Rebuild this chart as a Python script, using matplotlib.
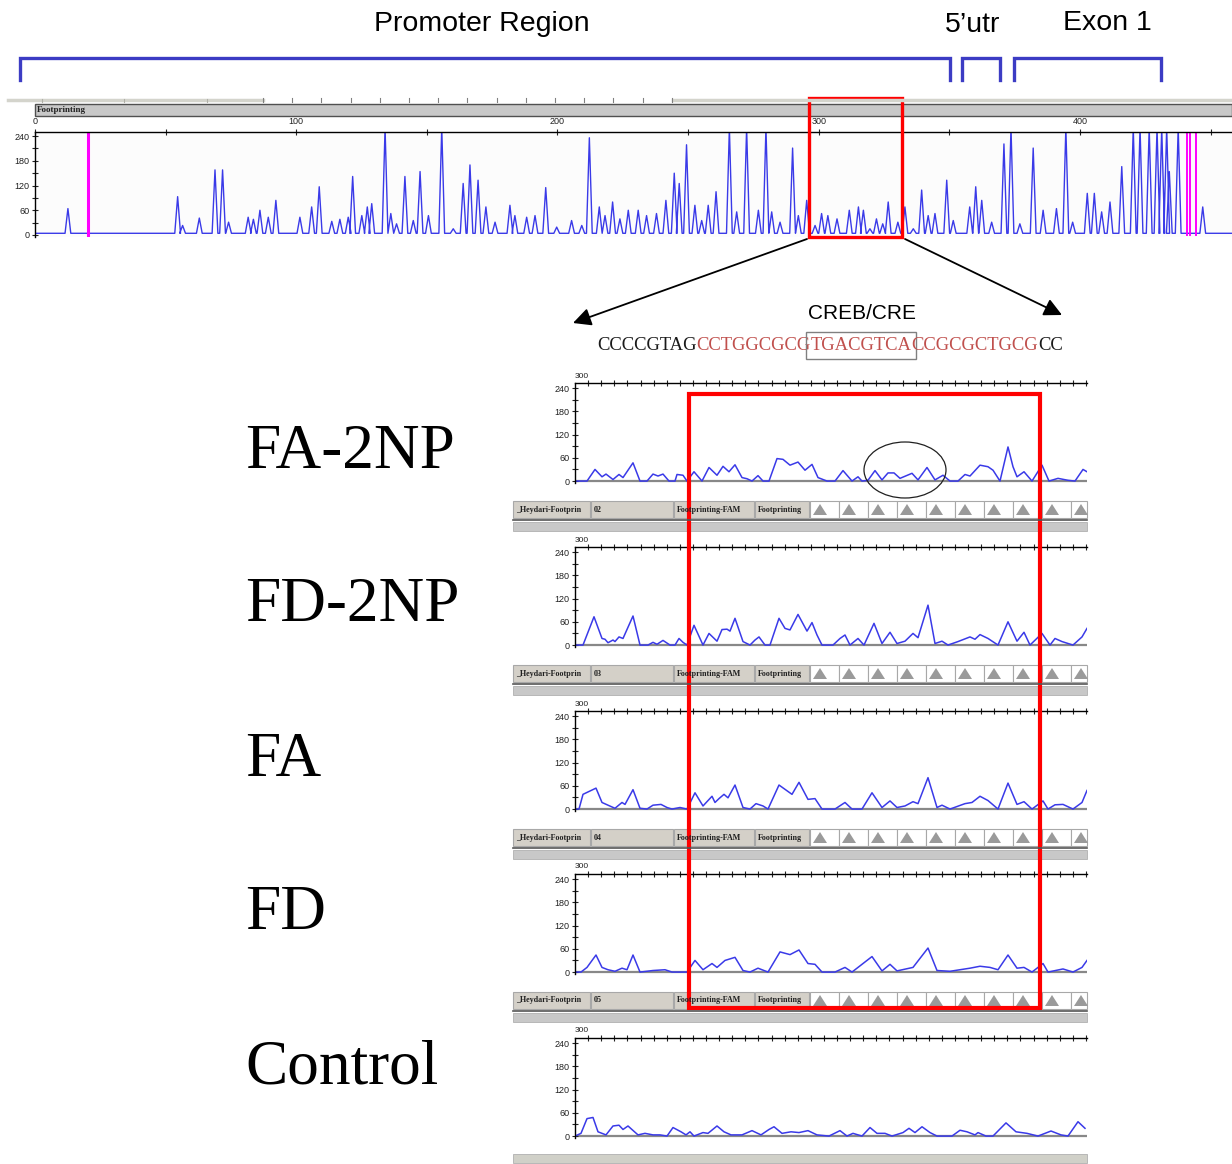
import numpy as np
import matplotlib
matplotlib.use("Agg")
import matplotlib.pyplot as plt
from matplotlib.patches import Rectangle, Ellipse, Polygon

# ==========================================
# Données
# ==========================================

# trace du haut : position (base) et hauteur des pics
top_pos = [12.6, 54.6, 56.5, 62.9, 68.9, 71.8, 74.1, 81.6, 83.6, 86.1, 89.3, 92.2,
           101.4, 105.9, 108.8, 113.6, 116.7, 119.9, 121.6, 125.1, 127.2, 128.9,
           134.0, 136.2, 138.4, 141.6, 144.8, 147.4, 150.6, 155.7, 160.1, 163.9,
           166.5, 169.6, 172.6, 176.1, 181.8, 183.7, 188.2, 191.4, 195.5, 199.7,
           205.4, 209.3, 212.2, 216.0, 218.2, 221.1, 223.9, 227.1, 230.9, 234.1,
           237.9, 241.5, 244.7, 246.6, 249.4, 252.6, 255.2, 257.7, 260.7, 265.8,
           268.6, 272.4, 276.9, 279.8, 282.0, 285.2, 290.0, 292.2, 295.4, 298.6,
           301.1, 303.5, 307.0, 311.7, 315.2, 317.1, 319.6, 322.1, 324.5, 326.6,
           330.3, 333.0, 336.2, 339.4, 341.9, 344.5, 349.0, 351.5, 357.8, 360.1,
           362.4, 366.2, 370.9, 373.6, 377.0, 382.1, 385.9, 391.0, 394.6, 397.2,
           402.8, 405.5, 408.3, 411.5, 416.0, 420.4, 423.0, 426.5, 429.5, 431.3,
           433.2, 434.2, 437.6, 447.0]
top_h = [64, 93, 23, 41, 158, 158, 31, 43, 38, 60, 43, 84,
         43, 68, 117, 33, 38, 43, 142, 47, 68, 76,
         260, 52, 27, 142, 35, 154, 47, 260, 15, 125,
         170, 133, 68, 31, 72, 47, 43, 47, 115, 19,
         35, 23, 236, 68, 47, 80, 39, 60, 60, 47,
         52, 84, 150, 125, 219, 72, 35, 72, 105, 260,
         56, 260, 60, 260, 56, 31, 211, 47, 84, 23,
         52, 47, 39, 60, 68, 60, 15, 39, 27, 80,
         31, 68, 15, 109, 47, 52, 133, 35, 68, 117,
         84, 31, 221, 260, 27, 211, 60, 64, 260, 31,
         101, 101, 56, 80, 166, 260, 260, 260, 260, 260,
         260, 154, 260, 68]
magenta_pos = [20.4, 440.8, 442.3, 444.3]
top_xticks = [0, 100, 200, 300, 400]

# traces des 5 échantillons (zoom sur la région CREB/CRE)
fa2np_x = [0, 7, 12, 20, 27, 31, 38, 44, 48, 58, 65, 72, 78, 83, 88, 94, 100, 102, 108, 112,
           119, 127, 134, 142, 148, 154, 160, 167, 172, 177, 183, 188, 194, 202, 208, 215,
           223, 230, 237, 243, 252, 260, 268, 277, 283, 287, 293, 300, 307, 313, 319, 325,
           337, 343, 352, 360, 368, 375, 383, 390, 395, 405, 413, 418, 425, 433, 438, 442,
           449, 457, 467, 474, 483, 493, 500, 508, 512]
fa2np_y = [0, 0, 0, 30, 11, 18, 4, 17, 9, 47, 0, 0, 18, 13, 18, 0, 0, 17, 15, 0,
           24, 0, 35, 15, 38, 24, 42, 9, 6, 0, 14, 0, 0, 58, 56, 41,
           49, 28, 43, 9, 0, 0, 27, 0, 11, 0, 2, 27, 3, 21, 21, 7,
           20, 3, 35, 3, 15, 0, 0, 17, 13, 41, 37, 28, 0, 88, 37, 11,
           24, 0, 41, 0, 7, 2, 0, 30, 24]

fd2np_x = [0, 8, 19, 27, 30, 33, 38, 40, 44, 48, 58, 65, 73, 78, 82, 88, 95, 100, 104, 108,
           112, 119, 128, 134, 142, 147, 152, 155, 160, 168, 175, 180, 184, 190, 195, 204,
           210, 215, 223, 232, 237, 242, 247, 258, 265, 270, 275, 283, 289, 299, 307, 315,
           322, 330, 338, 343, 353, 360, 367, 373, 383, 395, 400, 405, 413, 423, 433, 442,
           449, 455, 467, 475, 480, 487, 498, 507, 512]
fd2np_y = [0, 0, 73, 17, 15, 6, 13, 9, 21, 17, 75, 0, 0, 7, 2, 12, 0, 0, 17, 7,
           0, 51, 0, 30, 10, 40, 41, 36, 69, 9, 0, 13, 21, 0, 0, 69,
           43, 39, 79, 36, 58, 26, 0, 0, 17, 26, 0, 17, 0, 56, 4, 33,
           4, 10, 30, 19, 103, 4, 10, 0, 9, 21, 15, 27, 17, 0, 60, 10,
           33, 0, 30, 0, 17, 9, 0, 21, 43]

fa_x = [0, 4, 8, 21, 27, 33, 40, 47, 50, 58, 65, 72, 78, 86, 92, 97, 105, 112, 120, 128,
        137, 140, 144, 149, 153, 160, 168, 175, 181, 188, 193, 204, 217, 224, 233, 240,
        247, 260, 270, 277, 287, 297, 307, 315, 322, 330, 338, 343, 353, 362, 367, 375,
        390, 397, 405, 413, 423, 433, 442, 449, 457, 468, 473, 480, 488, 498, 507, 512]
fa_y = [0, 0, 38, 54, 17, 10, 2, 17, 12, 50, 2, 0, 10, 12, 4, 0, 4, 0, 42, 8,
        33, 17, 27, 38, 29, 62, 4, 0, 14, 8, 0, 62, 38, 69, 25, 27,
        0, 0, 17, 0, 0, 42, 4, 21, 4, 8, 19, 14, 81, 4, 10, 0,
        14, 17, 33, 22, 0, 67, 12, 19, 0, 21, 0, 11, 12, 0, 17, 48]

fd_x = [0, 6, 12, 21, 27, 33, 40, 47, 52, 58, 65, 78, 90, 97, 112, 120, 128, 137, 142, 150,
        160, 168, 175, 183, 193, 205, 215, 224, 233, 240, 247, 260, 270, 277, 297, 307,
        315, 322, 338, 353, 362, 375, 395, 405, 415, 423, 433, 442, 449, 457, 468, 473,
        488, 498, 507, 512]
fd_y = [0, 0, 12, 44, 12, 6, 2, 10, 6, 44, 0, 4, 6, 0, 0, 30, 6, 22, 12, 30,
        38, 4, 0, 10, 0, 52, 45, 57, 22, 20, 0, 0, 12, 0, 40, 3,
        20, 3, 12, 62, 4, 2, 10, 15, 12, 6, 44, 10, 12, 0, 22, 0,
        8, 0, 12, 30]

ctrl_x = [0, 6, 12, 18, 23, 31, 38, 44, 48, 53, 63, 70, 78, 85, 92, 98, 106, 111, 115, 119,
          128, 133, 142, 149, 156, 167, 177, 186, 194, 199, 207, 216, 224, 233, 242, 254,
          265, 272, 278, 287, 295, 302, 310, 317, 328, 334, 340, 347, 355, 362, 377, 385,
          392, 400, 403, 411, 418, 431, 441, 452, 463, 476, 486, 493, 503, 510]
ctrl_y = [0, 7, 45, 48, 11, 3, 26, 28, 17, 26, 3, 7, 3, 3, 0, 22, 11, 3, 11, 0,
          9, 7, 26, 11, 3, 3, 14, 3, 17, 24, 7, 11, 9, 14, 3, 0,
          14, 0, 7, 0, 22, 7, 7, 0, 9, 20, 9, 24, 9, 0, 0, 15,
          11, 3, 9, 0, 0, 34, 11, 7, 0, 13, 3, 0, 37, 20]

noms = ["FA-2NP", "FD-2NP", "FA", "FD", "Control"]
traces_x = [fa2np_x, fd2np_x, fa_x, fd_x, ctrl_x]
traces_y = [fa2np_y, fd2np_y, fa_y, fd_y, ctrl_y]
numeros = ["02", "03", "04", "05"]
sequence = [("CCCCGTAG", "#1a1a1a"), ("CCTGGCGCG", "#c0504d"), ("TGACGTCA", "#c0504d"),
            ("CCGCGCTGCG", "#c0504d"), ("CC", "#1a1a1a")]

# ==========================================
# Mise en page (pixels)
# ==========================================
W, H = 1232, 1164
SERIF = "Liberation Serif"
SANS = "Liberation Sans"
BLEU = "#3a3ae8"

fig = plt.figure(figsize=(W / 100, H / 100), dpi=100)


def axes_px(gauche, haut, droite, bas):
    return fig.add_axes([gauche / W, 1 - bas / H, (droite - gauche) / W, (bas - haut) / H])


def style_axes(ax):
    for cote in ["bottom", "right"]:
        ax.spines[cote].set_visible(False)
    ax.spines["top"].set_linewidth(1.0)
    ax.spines["left"].set_linewidth(1.0)
    ax.tick_params(axis="both", which="both", direction="inout", length=5, width=0.8,
                   labelsize=6.5, pad=1.5, colors="#222222")
    ax.tick_params(axis="x", which="both", top=True, bottom=False,
                   labeltop=True, labelbottom=False)
    ax.set_yticks([0, 60, 120, 180, 240])
    ax.set_yticks([30, 90, 150, 210], minor=True)
    for lab in ax.get_xticklabels() + ax.get_yticklabels():
        lab.set_fontfamily(SANS)


# --- panneau du haut ---
ax_top = axes_px(35, 132, 1232, 237)
xs, ys = [0], [4]
for p, h in zip(top_pos, top_h):
    xs += [p - 1.1, p, p + 1.1]
    ys += [4, h, 4]
xs.append(458.2)
ys.append(4)
ax_top.plot(xs, ys, color=BLEU, lw=1.0)
for p in magenta_pos:
    ax_top.axvline(p, color="#ff00ff", lw=2.2 if p < 100 else 1.4, ymin=0.02)
ax_top.set_xlim(0, 458.2)
ax_top.set_ylim(-5, 250)
style_axes(ax_top)
ax_top.set_xticks(top_xticks)
ax_top.set_xticks([50, 150, 250, 350, 450], minor=True)
ax_top.set_facecolor("#fcfcfc")

# --- panneaux du bas ---
zeros = [481, 645, 809, 972, 1136]
for k in range(5):
    z = zeros[k]
    ax = axes_px(575, z - 98, 1087, z + 2)
    ax.axhline(0, color="#888888", lw=1.6, zorder=1)
    ax.plot(traces_x[k], traces_y[k], color=BLEU, lw=1.1, zorder=2)
    ax.set_xlim(0, 512)
    ax.set_ylim(-5, 253)
    style_axes(ax)
    ax.set_xticks(np.arange(13.1, 512, 13.1))
    ax.tick_params(axis="x", labeltop=False)

# ==========================================
# Calque d'annotation
# ==========================================
ov = fig.add_axes([0, 0, 1, 1], zorder=10)
ov.set_xlim(0, W)
ov.set_ylim(H, 0)
ov.axis("off")

# titres des régions
ov.text(482, 31, "Promoter Region", family=SANS, fontsize=20.5, ha="center", va="baseline")
ov.text(973, 32, "5\u2019utr", family=SANS, fontsize=20.5, ha="center", va="baseline")
ov.text(1107, 30, "Exon 1", family=SANS, fontsize=20.5, ha="center", va="baseline")
for g, d in [(20, 950), (962, 1000), (1014, 1161)]:
    ov.plot([g, g, d, d], [80, 58, 58, 80], color="#3c3cc4", lw=2.4,
            solid_joinstyle="miter")

# bandeau gris au-dessus du panneau
ov.plot([8, 263], [100, 100], color="#d4d4cc", lw=2.5)
ov.plot([673, 1232], [100, 100], color="#d4d4cc", lw=2.5)
for t in [42, 124, 207]:
    ov.plot([t, t], [98.5, 101.5], color="#b0b0a8", lw=0.8)
for t in np.arange(263, 673, 29.2):
    ov.plot([t, t], [98, 101.5], color="#808080", lw=0.8)
ov.add_patch(Rectangle((35, 104), 1197, 12, fc="#c8c8c8", ec="#505050", lw=1.0))
ov.text(37, 110.5, "Footprinting", family=SERIF, fontsize=6.5, fontweight="bold",
        va="center", ha="left", color="#202020")

# cadre rouge du haut + flèches
ov.add_patch(Rectangle((809, 98), 93, 139, fc="none", ec="#ff0000", lw=2.4))
fleche = dict(arrowstyle="-|>", color="black", lw=1.3, mutation_scale=27,
              shrinkA=0, shrinkB=0)
ov.annotate("", xy=(573, 323), xytext=(807, 239), arrowprops=fleche)
ov.annotate("", xy=(1062, 315), xytext=(905, 239), arrowprops=fleche)

# séquence
ov.text(862, 319, "CREB/CRE", family=SANS, fontsize=15, ha="center", va="baseline")
prec = None
for seg, coul in sequence:
    opts = dict(family=SERIF, fontsize=13.4, color=coul)
    if seg == "TGACGTCA":
        opts["bbox"] = dict(boxstyle="square,pad=0.25", fc="none", ec="#808080", lw=1.0)
    if prec is None:
        prec = ov.text(597, 350, seg, ha="left", va="baseline", **opts)
    else:
        prec = ov.annotate(seg, xy=(1, 0), xycoords=prec, ha="left", va="bottom", **opts)

# libellés des échantillons
bases = [468, 621, 776, 929, 1083]
for nom, b in zip(noms, bases):
    ov.text(245, b, nom, family=SERIF, fontsize=45.5, ha="left", va="baseline")

# "300" au-dessus de chaque panneau
for z in zeros:
    ov.text(582, z - 105, "300", family=SANS, fontsize=6, ha="center", va="center",
            color="#222222")

# rangées de cellules sous les panneaux
cellules = [(513, 590, "_Heydari-Footprin"), (591, 673, None),
            (674, 754, "Footprinting-FAM"), (755, 809, "Footprinting")]
tri_g = np.arange(810, 1087, 29)
for k, num in enumerate(numeros):
    haut = zeros[k] + 20
    for g, d, txt in cellules:
        ov.add_patch(Rectangle((g, haut), d - g, 17, fc="#d4d0c8", ec="#a8a8a8", lw=0.8))
        ov.text(g + 3, haut + 8.5, txt if txt else num, family=SERIF, fontsize=5.8,
                fontweight="bold", va="center", ha="left", color="#202020")
    for g in tri_g:
        d = min(g + 29, 1087)
        ov.add_patch(Rectangle((g, haut), d - g, 17, fc="white", ec="#a8a8a8", lw=0.8))
        cx = g + 10
        ov.add_patch(Polygon([[cx - 7, haut + 14], [cx + 7, haut + 14], [cx, haut + 3]],
                             closed=True, fc="#9a9a9a", ec="none"))
    ov.plot([513, 1087], [haut + 19, haut + 19], color="#555555", lw=1.2)
    ov.add_patch(Rectangle((513, haut + 21), 574, 9, fc="#c8c8c8", ec="#b0b0b0", lw=0.6))
ov.add_patch(Rectangle((513, zeros[4] + 18), 574, 9, fc="#d0d0c8", ec="#b0b0b0", lw=0.6))

# ellipse et grand cadre rouge
ov.add_patch(Ellipse((905, 470), 82, 56, fc="none", ec="#202020", lw=0.9))
ov.add_patch(Rectangle((689, 394), 351, 614, fc="none", ec="#ff0000", lw=3.0))

fig.savefig("out.png", dpi=100)
plt.close("all")
